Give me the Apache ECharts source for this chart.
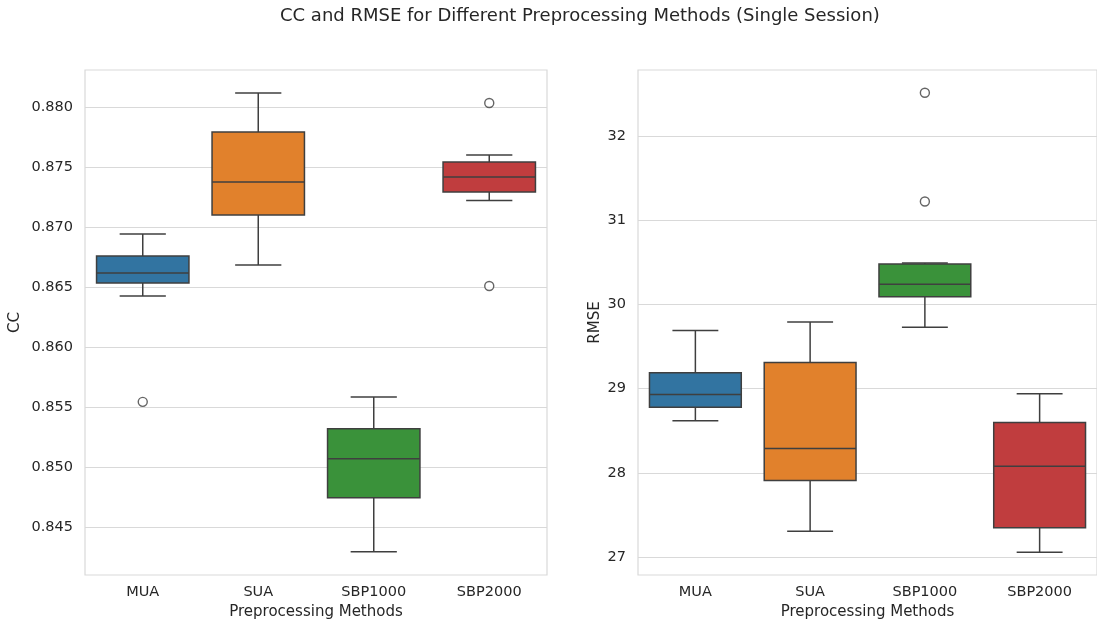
<!DOCTYPE html>
<html>
<head>
<meta charset="utf-8">
<script src="https://cdn.jsdelivr.net/npm/echarts@6/dist/echarts.min.js"></script>
<style>
  html, body { margin: 0; padding: 0; background: #ffffff; }
  #chart { width: 1097px; height: 625px; }
</style>
</head>
<body>
<div id="chart"></div>
<script>
// Preprocessing methods shown on both panels
const categories = ['MUA', 'SUA', 'SBP1000', 'SBP2000'];

// Box statistics per method: [lower whisker, Q1, median, Q3, upper whisker]
const ccStats = [
  [0.86425, 0.86533, 0.86617, 0.86758, 0.86942],
  [0.86683, 0.87100, 0.87375, 0.87792, 0.88117],
  [0.84292, 0.84742, 0.85067, 0.85317, 0.85583],
  [0.87220, 0.87292, 0.87417, 0.87542, 0.87600]
];
// Outliers: [method index, value]
const ccOutliers = [[0, 0.85542], [3, 0.88033], [3, 0.86508]];

const rmseStats = [
  [28.62, 28.78, 28.93, 29.19, 29.69],
  [27.31, 27.91, 28.29, 29.31, 29.79],
  [29.73, 30.09, 30.24, 30.48, 30.49],
  [27.06, 27.35, 28.08, 28.60, 28.94]
];
const rmseOutliers = [[2, 32.51], [2, 31.22]];

// Tick values for the y axes
const ccTicks = [0.845, 0.850, 0.855, 0.860, 0.865, 0.870, 0.875, 0.880];
const rmseTicks = [27, 28, 29, 30, 31, 32];

const boxColors = ['#3274a1', '#e1812c', '#3a923a', '#c03d3e'];
const lineColor = '#3f3f3f';
const textColor = '#262626';
const gridColor = '#d9d9d9';
const fontFamily = 'DejaVu Sans';

function renderBox(params, api) {
  const idx = api.value(0);
  const lo = api.coord([idx, api.value(1)]);
  const q1 = api.coord([idx, api.value(2)]);
  const med = api.coord([idx, api.value(3)]);
  const q3 = api.coord([idx, api.value(4)]);
  const hi = api.coord([idx, api.value(5)]);
  const band = api.size([1, 0])[0];
  const bw = band * 0.8;
  const cap = bw / 2;
  const x = lo[0];
  const lineStyle = { stroke: lineColor, lineWidth: 1.5, fill: null };
  return {
    type: 'group',
    children: [
      { type: 'line', shape: { x1: x, y1: hi[1], x2: x, y2: q3[1] }, style: lineStyle },
      { type: 'line', shape: { x1: x, y1: q1[1], x2: x, y2: lo[1] }, style: lineStyle },
      { type: 'line', shape: { x1: x - cap / 2, y1: hi[1], x2: x + cap / 2, y2: hi[1] }, style: lineStyle },
      { type: 'line', shape: { x1: x - cap / 2, y1: lo[1], x2: x + cap / 2, y2: lo[1] }, style: lineStyle },
      {
        type: 'rect',
        shape: { x: x - bw / 2, y: q3[1], width: bw, height: q1[1] - q3[1] },
        style: { fill: boxColors[idx], stroke: lineColor, lineWidth: 1.5 }
      },
      { type: 'line', shape: { x1: x - bw / 2, y1: med[1], x2: x + bw / 2, y2: med[1] }, style: lineStyle }
    ]
  };
}

function xAxisFor(gridIndex) {
  return {
    type: 'category',
    gridIndex: gridIndex,
    data: categories,
    name: 'Preprocessing Methods',
    nameLocation: 'middle',
    nameGap: 30,
    nameTextStyle: { color: textColor, fontSize: 15, fontFamily: fontFamily },
    axisLine: { show: false },
    axisTick: { show: false },
    axisLabel: { color: textColor, fontSize: 14.5, fontFamily: fontFamily, margin: 10 },
    splitLine: { show: false }
  };
}

function yAxisFor(gridIndex, name, min, max, ticks, nameGap, fmt) {
  return {
    type: 'value',
    gridIndex: gridIndex,
    name: name,
    nameLocation: 'middle',
    nameGap: nameGap,
    nameTextStyle: { color: textColor, fontSize: 15, fontFamily: fontFamily },
    min: min,
    max: max,
    axisLine: { show: false },
    axisTick: { show: false, customValues: ticks },
    axisLabel: {
      color: textColor, fontSize: 14.5, fontFamily: fontFamily, margin: 12,
      customValues: ticks, formatter: fmt
    },
    splitLine: { show: true, lineStyle: { color: gridColor, width: 1 } }
  };
}

function boxData(stats) {
  return stats.map((s, i) => [i].concat(s));
}

const outlierStyle = {
  type: 'scatter',
  symbol: 'circle',
  symbolSize: 9,
  itemStyle: { color: '#ffffff', borderColor: lineColor, borderWidth: 1.4 },
  z: 5
};

const chart = echarts.init(document.getElementById('chart'), null, { renderer: 'canvas' });
chart.setOption({
  backgroundColor: '#ffffff',
  animation: false,
  title: {
    text: 'CC and RMSE for Different Preprocessing Methods (Single Session)',
    left: 275,
    top: 2,
    textStyle: { color: textColor, fontSize: 18, fontWeight: 'normal', fontFamily: fontFamily }
  },
  grid: [
    { left: 85, top: 70, width: 462, height: 505, show: true, borderColor: gridColor, borderWidth: 1.2, backgroundColor: 'transparent' },
    { left: 638, top: 70, width: 462, height: 505, show: true, borderColor: gridColor, borderWidth: 1.2, backgroundColor: 'transparent' }
  ],
  xAxis: [xAxisFor(0), xAxisFor(1)],
  yAxis: [
    yAxisFor(0, 'CC', 0.84099, 0.88308, ccTicks, 62, v => v.toFixed(3)),
    yAxisFor(1, 'RMSE', 26.79, 32.78, rmseTicks, 35, v => String(Math.round(v)))
  ],
  series: [
    {
      type: 'custom',
      xAxisIndex: 0, yAxisIndex: 0,
      renderItem: renderBox,
      encode: { x: 0, y: [1, 2, 3, 4, 5] },
      data: boxData(ccStats)
    },
    Object.assign({ xAxisIndex: 0, yAxisIndex: 0, data: ccOutliers }, outlierStyle),
    {
      type: 'custom',
      xAxisIndex: 1, yAxisIndex: 1,
      renderItem: renderBox,
      encode: { x: 0, y: [1, 2, 3, 4, 5] },
      data: boxData(rmseStats)
    },
    Object.assign({ xAxisIndex: 1, yAxisIndex: 1, data: rmseOutliers }, outlierStyle)
  ]
});
</script>
</body>
</html>
